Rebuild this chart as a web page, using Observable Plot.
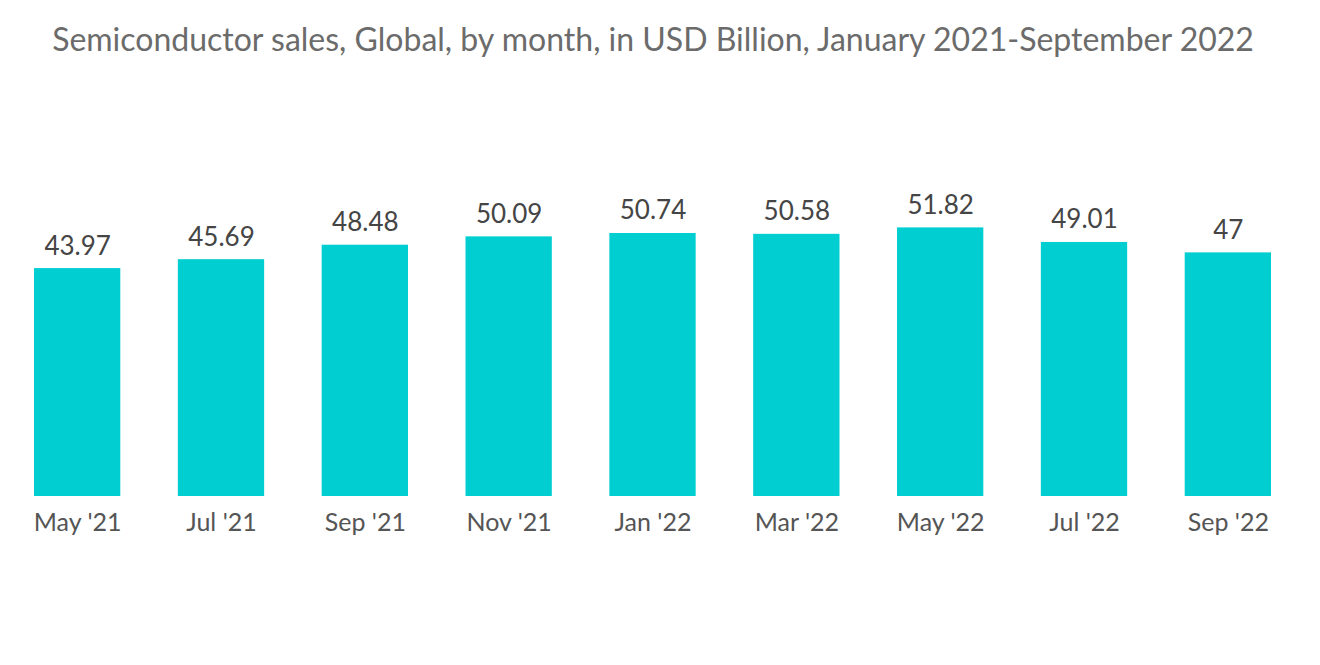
<!DOCTYPE html>
<html>
<head>
<meta charset="utf-8">
<script src="https://cdn.jsdelivr.net/npm/d3@7"></script>
<script src="https://cdn.jsdelivr.net/npm/@observablehq/plot@0.6"></script>
<style>
  html, body { margin: 0; padding: 0; background: #fff; }
  body { width: 1320px; height: 665px; overflow: hidden; font-family: Lato, "Open Sans", sans-serif; }
  #title { height: 80px; box-sizing: border-box; padding-top: 19px; padding-right: 14px; text-align: center; font-size: 32px; line-height: 40px; color: #6b6b6b; white-space: nowrap; }
</style>
</head>
<body>
<div id="title">Semiconductor sales, Global, by month, in USD Billion, January 2021-September 2022</div>
<div id="chart"></div>
<script>
const months = ["May '21", "Jul '21", "Sep '21", "Nov '21", "Jan '22", "Mar '22", "May '22", "Jul '22", "Sep '22"];
const sales = [43.97, 45.69, 48.48, 50.09, 50.74, 50.58, 51.82, 49.01, 47];
const labels = ["43.97", "45.69", "48.48", "50.09", "50.74", "50.58", "51.82", "49.01", "47"];

const data = months.map((m, i) => ({month: m, value: sales[i], label: labels[i]}));

const chart = Plot.plot({
  width: 1320,
  height: 585,
  marginLeft: 34,
  marginRight: 49,
  marginTop: 105,
  marginBottom: 169,
  style: {fontFamily: "Lato, 'Open Sans', sans-serif", background: "#fff", color: "#555"},
  x: {domain: months, paddingInner: 0.4, paddingOuter: 0, round: false, label: null},
  y: {domain: [0, 60], axis: null},
  marks: [
    Plot.barY(data, {x: "month", y: "value", fill: "#00CED1"}),
    Plot.text(data, {x: "month", y: "value", text: "label", dy: -14, lineAnchor: "bottom", fontSize: 26, fill: "#454545"}),
    Plot.axisX({tickSize: 0, tickPadding: 17, fontSize: 25, fill: "#555", label: null})
  ]
});
document.getElementById("chart").appendChild(chart);
</script>
</body>
</html>
